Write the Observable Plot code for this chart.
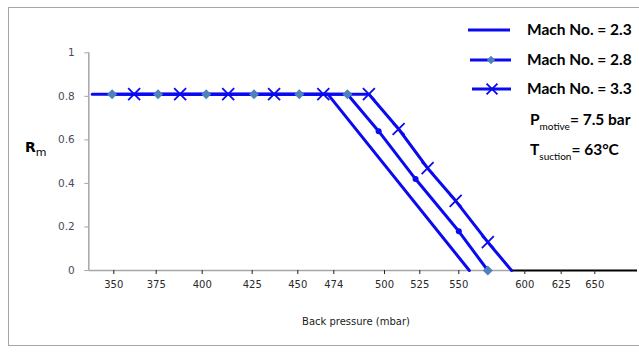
<!DOCTYPE html>
<html><head><meta charset="utf-8">
<script src="https://cdn.jsdelivr.net/npm/d3@7"></script>
<script src="https://cdn.jsdelivr.net/npm/@observablehq/plot@0.6"></script>
<style>
body{margin:0;background:#fff;}
#wrap{position:relative;width:639px;height:352px;overflow:hidden;font-family:"DejaVu Sans",sans-serif;}
#border{position:absolute;left:8px;top:7px;width:660px;height:339px;border:1.5px solid #a6a6a6;box-sizing:border-box;}
#chart{position:absolute;left:0;top:0;}
.lg{position:absolute;font-family:Lato,"Liberation Sans",sans-serif;font-weight:bold;font-size:15.5px;color:#000;white-space:nowrap;line-height:1;}
.lg sub{font-size:10px;font-weight:normal;vertical-align:-5px;}
.sw{position:absolute;}
#ylab{position:absolute;left:25px;top:139px;font-family:"DejaVu Sans",sans-serif;font-weight:bold;font-size:14px;color:#000;}
#ylab sub{font-size:11px;font-weight:normal;vertical-align:-4px;}
#xlab{position:absolute;left:0;width:712px;top:316px;text-align:center;font-size:10px;color:#1a1a1a;}
</style>
</head><body>
<div id="wrap">
  <div id="border"></div>
  <div id="chart"></div>
  <div id="ylab">R<sub>m</sub></div>
  <div id="xlab">Back pressure (mbar)</div>
  <div id="legend"></div>
</div>
<script>
// ---- data ----
const xTicks = [350, 375, 400, 425, 450, 474, 500, 525, 550, 600, 625, 650];
const yTicks = [0, 0.2, 0.4, 0.6, 0.8, 1];
const seriesNames = ["Mach No. = 2.3", "Mach No. = 2.8", "Mach No. = 3.3"];

const mach23X = [337, 470, 558];
const mach23Y = [0.81, 0.81, 0];

const mach28X = [349, 376, 402, 426, 451, 481, 497, 522, 550, 572];
const mach28Y = [0.81, 0.81, 0.81, 0.81, 0.81, 0.81, 0.64, 0.42, 0.18, 0];

const mach33X = [362, 388, 413, 437, 467, 492, 510, 530, 548, 572, 590];
const mach33Y = [0.81, 0.81, 0.81, 0.81, 0.81, 0.81, 0.65, 0.47, 0.32, 0.13, 0];

const noteP = ["P", "motive", "= 7.5 bar"];
const noteT = ["T", "suction", "= 63°C"];

// ---- scale configuration (the original's axis is unevenly spaced) ----
const xDomain = [335, ...xTicks, 682];
const xRange = [88.3, 113.3, 155.7, 201.7, 251.7, 297.3, 333.3, 384, 419.3, 458.3, 524.3, 560.7, 594.3, 637];

const toRows = (xs, ys) => xs.map((x, i) => ({x, y: ys[i]}));
const d23 = toRows(mach23X, mach23Y);
const d28 = toRows(mach28X, mach28Y);
const d33 = toRows(mach33X, mach33Y);

const blue = "#0a0af0";
const diamondFill = "#4f81bd";
const times = d3.symbolTimes || "times";

const chart = Plot.plot({
  width: 639,
  height: 352,
  marginLeft: 88.3,
  marginRight: 2,
  marginTop: 52.3,
  marginBottom: 82,
  style: {background: "transparent", overflow: "visible"},
  x: {type: "linear", domain: xDomain, range: xRange, axis: null},
  y: {type: "linear", domain: [0, 1], axis: null},
  marks: [
    Plot.ruleX([xDomain[0]], {y1: 0, y2: 1, stroke: "#a6a6a6", strokeWidth: 1.5}),
    Plot.ruleY([0], {x1: xDomain[0], x2: mach33X[mach33X.length - 1], stroke: "#a6a6a6", strokeWidth: 1.5}),
    Plot.ruleY([0], {x1: mach33X[mach33X.length - 1], x2: xDomain[xDomain.length - 1], stroke: "#000", strokeWidth: 2}),
    Plot.axisY(yTicks, {anchor: "left", tickSize: 4, tickPadding: 10, tickFormat: d => String(d),
      stroke: "#a6a6a6", fill: "#4a4a5a", fontSize: 10.5, label: null, fontFamily: "DejaVu Sans"}),
    Plot.axisX(xTicks, {anchor: "bottom", tickSize: 4, tickPadding: 6, tickFormat: d => String(d),
      stroke: "#222", fill: "#2a2a2a", fontSize: 10, label: null, fontFamily: "DejaVu Sans"}),
    Plot.line(d23, {x: "x", y: "y", stroke: blue, strokeWidth: 3}),
    Plot.line(d28, {x: "x", y: "y", stroke: blue, strokeWidth: 3}),
    Plot.line(d33, {x: "x", y: "y", stroke: blue, strokeWidth: 3}),
    Plot.dot(d28, {x: "x", y: "y", filter: d => d.y >= 0.8 || d.y === 0, symbol: "diamond2", r: 4.5, fill: diamondFill, stroke: null}),
    Plot.dot(d28, {x: "x", y: "y", filter: d => d.y > 0 && d.y < 0.8, r: 3, fill: blue, stroke: null}),
    Plot.dot(d33, {x: "x", y: "y", filter: d => d.y > 0, symbol: times, r: 5.5, stroke: blue, strokeWidth: 1.8, fill: "none"})
  ]
});
document.getElementById("chart").appendChild(chart);

// ---- legend (HTML) ----
const legend = document.getElementById("legend");
const rowTops = [29.5, 60, 89];
const markerKinds = ["none", "diamond", "times"];
seriesNames.forEach((name, i) => {
  const sw = document.createElementNS("http://www.w3.org/2000/svg", "svg");
  sw.setAttribute("class", "sw");
  sw.setAttribute("width", 50);
  sw.setAttribute("height", 16);
  sw.style.left = "466px";
  sw.style.top = (rowTops[i] - 8) + "px";
  const ln = document.createElementNS("http://www.w3.org/2000/svg", "line");
  const x0 = i === 0 ? 2 : i === 1 ? 4 : 6;
  ln.setAttribute("x1", x0); ln.setAttribute("x2", 44 + (i === 0 ? 0 : 1));
  ln.setAttribute("y1", 8); ln.setAttribute("y2", 8);
  ln.setAttribute("stroke", blue); ln.setAttribute("stroke-width", 3);
  sw.appendChild(ln);
  if (markerKinds[i] === "diamond") {
    const p = document.createElementNS("http://www.w3.org/2000/svg", "path");
    p.setAttribute("d", d3.symbol(d3.symbolDiamond2, 45)());
    p.setAttribute("transform", "translate(25,8)");
    p.setAttribute("fill", diamondFill);
    sw.appendChild(p);
  } else if (markerKinds[i] === "times") {
    const p = document.createElementNS("http://www.w3.org/2000/svg", "path");
    p.setAttribute("d", d3.symbol(d3.symbolTimes || d3.symbolCross, 80)());
    p.setAttribute("transform", "translate(26,8)");
    p.setAttribute("stroke", blue); p.setAttribute("stroke-width", 1.8); p.setAttribute("fill", "none");
    sw.appendChild(p);
  }
  legend.appendChild(sw);
  const t = document.createElement("div");
  t.className = "lg";
  t.style.left = "527px";
  t.style.top = (rowTops[i] - 8) + "px";
  t.textContent = name;
  legend.appendChild(t);
});
[[noteP, 112], [noteT, 142]].forEach(([parts, top]) => {
  const t = document.createElement("div");
  t.className = "lg";
  t.style.left = "530px";
  t.style.top = top + "px";
  t.innerHTML = parts[0] + "<sub>" + parts[1] + "</sub>" + parts[2];
  legend.appendChild(t);
});
</script>
</body></html>
